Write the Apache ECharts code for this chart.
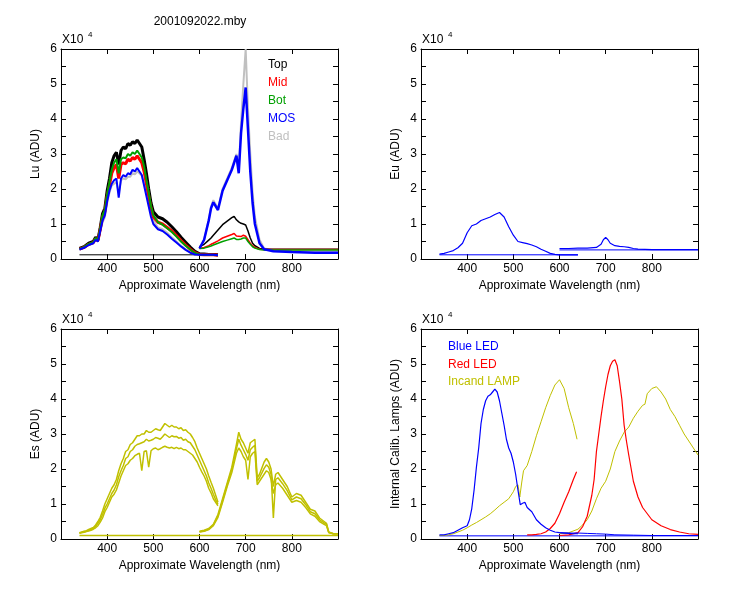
<!DOCTYPE html>
<html><head><meta charset="utf-8">
<script src="https://cdn.jsdelivr.net/npm/echarts@6/dist/echarts.min.js"></script>
<style>html,body{margin:0;padding:0;background:#fff}#c{width:750px;height:600px}</style>
</head><body><div id="c"></div>
<script>
// ---------- data (values in units of 10^4 ADU) ----------
const xTicks = [400, 500, 600, 700, 800];
const yNames = ['Lu (ADU)', 'Eu (ADU)', 'Es (ADU)', 'Internal Calib. Lamps (ADU)'];
const luLegend = ['Top', 'Mid', 'Bot', 'MOS', 'Bad'];
const calLegend = ['Blue LED', 'Red LED', 'Incand LAMP'];

const wlLuA = [340,350,360,370,375,380,385,390,395,400,405,410,415,420,425,430,435,440,445,450,455,460,465,470,475,480,485,490,495,500,510,520,530,540,550,560,570,580,590,600,610,620,630,640];
const luTopA = [0.3,0.35,0.45,0.5, 0.62,0.55,0.9,1.3,1.45,1.95,2.3,2.75,2.95,3.05,2.7,3.1,3.2,3.15,3.3,3.25,3.35,3.3,3.4,3.3,3.2,2.85,2.45,2.0,1.6, 1.35, 1.2,1.15,1.05,0.92,0.78,0.62,0.48,0.34,0.22,0.15,0.14,0.13,0.13,0.12];
const luMidA = [0.28,0.33,0.42,0.47, 0.58,0.52,0.85,1.2,1.35,1.8,2.1,2.45,2.6,2.7,2.3,2.7,2.75,2.72,2.85,2.8,2.9,2.85,2.95,2.85,2.75,2.5,2.15,1.8,1.45, 1.2, 1.05,1.0,0.9,0.8,0.67,0.53,0.4,0.28,0.18,0.13,0.12,0.12,0.12,0.11];
const luBotA = [0.29,0.34,0.43,0.48, 0.6,0.53,0.88,1.25,1.4,1.85,2.2,2.55,2.75,2.85,2.45,2.85,2.9,2.88,3.0,2.95,3.05,3.0,3.1,3.0,2.9,2.65,2.25,1.9,1.5, 1.25, 1.05,0.98,0.88,0.77,0.64,0.5,0.38,0.27,0.17,0.13,0.12,0.12,0.12,0.11];
const luMosA = [0.27,0.32,0.4,0.45, 0.55,0.5,0.8,1.1,1.25,1.65,1.95,2.15,2.25,2.3,1.75,2.3,2.4,2.35,2.45,2.42,2.55,2.5,2.6,2.5,2.4,2.1,1.8,1.5,1.2, 1.0, 0.85,0.8,0.7,0.58,0.47,0.36,0.26,0.18,0.13,0.12,0.12,0.12,0.12,0.11];
const luBadA = [0.27,0.32,0.4,0.45, 0.55,0.5,0.78,1.05,1.2,1.6,1.9,2.1,2.15,2.2,1.9,2.25,2.3,2.28,2.35,2.35,2.45,2.42,2.5,2.45,2.38,2.15,1.9,1.6,1.3, 1.1, 0.9,0.85,0.75,0.62,0.5,0.38,0.28,0.19,0.14,0.12,0.12,0.12,0.12,0.11];

const wlLuB = [600,610,620,625,630,640,650,660,670,675,680,685,690,695,700,705,710,715,720,730,740,760,800,850,900];
const luTopB = [0.35,0.42,0.54,0.6,0.68,0.83,0.98,1.08,1.18,1.22,1.12,1.06,1.02,1.0,0.97,0.8,0.6,0.45,0.38,0.3,0.28,0.28,0.28,0.28,0.28];
const luMidB = [0.3,0.33,0.38,0.42,0.45,0.52,0.6,0.65,0.7,0.73,0.66,0.65,0.64,0.68,0.65,0.55,0.45,0.38,0.33,0.28,0.27,0.27,0.27,0.27,0.27];
const luBotB = [0.3,0.31,0.35,0.37,0.4,0.45,0.5,0.54,0.58,0.6,0.56,0.56,0.57,0.6,0.6,0.5,0.42,0.35,0.31,0.27,0.26,0.26,0.26,0.26,0.26];
const luMosB = [0.3,0.55,1.1,1.45,1.62,1.4,1.95,2.25,2.55,2.75,2.95,2.45,3.6,4.3,4.9,3.7,2.5,1.6,1.0,0.45,0.28,0.22,0.2,0.18,0.18];
const luBadB = [0.3,0.55,1.12,1.5,1.68,1.45,2.0,2.3,2.6,2.8,3.0,2.5,3.9,5.0,6.0,4.3,3.0,1.9,1.2,0.55,0.3,0.25,0.22,0.2,0.2];
const wlBaseA = [340,640];
const luBaseA = [0.12,0.12];

const wlA = [340,350,360,370,380,390,400,410,420,430,440,450,460,470,480,490,500,510,520,530,540,550,560,570,580,590,600,610,620,630,640];
const euA = [0.14,0.16,0.2,0.24,0.32,0.45,0.75,0.95,1.0,1.1,1.15,1.2,1.27,1.33,1.2,0.92,0.68,0.5,0.47,0.44,0.4,0.35,0.28,0.22,0.16,0.13,0.12,0.12,0.12,0.12,0.12];
const euBaseA = [0.12,0.12];
const wlEuB = [600,620,640,660,680,690,695,700,705,710,720,730,740,750,760,770,800,850,900];
const euB = [0.3,0.3,0.31,0.31,0.33,0.42,0.55,0.62,0.55,0.45,0.38,0.36,0.35,0.33,0.3,0.28,0.27,0.27,0.27];
const wlBaseB = [600,900];
const euBaseB = [0.26,0.26];

const wlEsA = [340,345,350,355,360,365,370,375,380,385,390,395,400,405,410,415,420,425,430,435,440,445,450,455,460,465,470,475,480,485,490,495,500,505,510,515,520,525,530,535,540,545,550,555,560,565,570,575,580,585,590,595,600,605,610,615,620,625,630,635,640];
const esHighA = [0.18,0.2,0.22,0.24,0.27,0.3,0.33,0.4,0.5,0.62,
  0.8,1.0,1.15,1.3,1.45,1.55,1.7,1.95,2.15,2.3,
  2.5,2.55,2.7,2.75,2.85,2.95,2.95,3.0,3.0,3.1,
  3.05,3.05,3.1,3.15,3.12,3.1,3.2,3.3,3.25,3.2,
  3.25,3.2,3.2,3.15,3.18,3.1,3.12,3.05,3.0,2.9,
  2.78,2.6,2.45,2.3,2.15,2.0,1.8,1.62,1.45,1.25,
  1.05];
const esMidA = [0.17,0.19,0.2,0.22,0.25,0.27,0.3,0.36,0.45,0.55,
  0.7,0.88,1.0,1.15,1.3,1.4,1.55,1.78,1.95,2.1,
  2.3,2.35,2.5,2.55,2.65,2.7,2.72,2.75,2.78,2.85,
  2.8,2.82,2.85,2.9,2.88,2.85,2.92,3.0,2.95,2.9,
  2.95,2.92,2.93,2.88,2.9,2.82,2.85,2.78,2.75,2.65,
  2.55,2.4,2.25,2.1,1.95,1.8,1.6,1.45,1.28,1.12,
  1.0];
const esLowA = [0.16,0.18,0.19,0.21,0.23,0.25,0.28,0.32,0.38,0.48,
  0.6,0.78,0.9,1.05,1.2,1.28,1.4,1.6,1.8,1.95,
  2.1,2.15,2.25,2.3,2.38,2.42,2.45,1.95,2.5,2.52,
  2.05,2.52,2.58,2.6,2.55,2.58,2.62,2.65,2.62,2.6,
  2.62,2.58,2.62,2.58,2.6,2.55,2.55,2.5,2.45,2.4,
  2.3,2.2,2.05,1.92,1.8,1.65,1.45,1.32,1.15,1.05,
  0.95];
const wlEsB = [600,610,620,630,640,650,660,670,680,685,690,695,700,705,710,715,720,725,730,740,745,750,755,760,765,770,780,790,800,810,820,830,840,850,860,870,875,880,890,900];
const esHighB = [0.22,0.25,0.3,0.42,0.7,1.15,1.6,2.05,2.7,3.05,2.85,2.75,2.6,2.45,2.75,2.8,2.85,1.75,1.85,2.2,2.3,2.2,2.0,1.5,1.85,1.9,1.7,1.5,1.2,1.3,1.25,1.05,0.85,0.8,0.6,0.5,0.45,0.2,0.15,0.15];
const esMidB = [0.21,0.23,0.28,0.4,0.66,1.1,1.55,1.98,2.58,2.85,2.68,2.55,2.42,2.25,2.55,2.62,2.68,1.65,1.75,2.02,2.12,2.05,1.85,0.6,1.7,1.75,1.58,1.38,1.12,1.2,1.15,0.98,0.78,0.72,0.55,0.46,0.42,0.19,0.15,0.15];
const esLowB = [0.2,0.22,0.27,0.38,0.62,1.05,1.5,1.9,2.45,2.6,2.5,2.35,2.25,1.7,2.35,2.45,2.5,1.55,1.65,1.85,1.95,1.9,1.7,1.3,1.55,1.6,1.45,1.25,1.05,1.1,1.05,0.9,0.72,0.65,0.5,0.42,0.38,0.18,0.15,0.15];
const wlFull = [340,900];
const esBase = [0.1,0.1];

const wlCalA = [340,350,360,370,380,390,400,405,410,415,420,425,430,435,440,445,450,455,460,465,470,475,480,485,490,495,500,505,510,515,520,525,530,540,550,560,570,580,590,600,610,620,630,640];
const blueLedA = [0.12,0.12,0.15,0.18,0.25,0.32,0.38,0.55,0.87,1.4,2.05,2.6,3.3,3.7,3.95,4.08,4.12,4.2,4.28,4.2,3.95,3.6,3.25,2.85,2.6,2.45,2.2,1.85,1.4,0.98,1.02,1.05,0.9,0.78,0.55,0.42,0.32,0.25,0.2,0.18,0.17,0.16,0.15,0.15];
const wlBlueLedB = [600,620,640,660,680,700,720,760,800,850,900];
const blueLedB = [0.18,0.17,0.17,0.16,0.15,0.14,0.12,0.11,0.1,0.1,0.1];
const blueLedBase = [0.09,0.09];
const wlRedA = [530,540,550,560,570,580,590,600,610,620,630,637];
const redLedA = [0.12,0.12,0.13,0.15,0.2,0.3,0.45,0.72,1.05,1.35,1.7,1.92];
const wlRedB = [600,620,640,650,660,670,675,680,685,690,695,700,705,710,715,720,725,730,735,740,745,750,760,770,780,800,820,840,860,880,900];
const redLedB = [0.1,0.12,0.18,0.35,0.65,1.25,1.7,2.5,3.0,3.5,3.95,4.35,4.7,4.95,5.08,5.12,4.95,4.5,4.0,3.25,2.8,2.4,1.65,1.2,0.9,0.55,0.38,0.27,0.2,0.15,0.13];
const wlIncA = [340,350,360,370,380,390,400,410,420,430,440,450,460,470,480,490,500,505,510,514,518,522,530,540,550,560,570,580,590,600,610,620,630,638];
const incA = [0.1,0.1,0.12,0.15,0.2,0.25,0.32,0.4,0.47,0.55,0.63,0.72,0.83,0.95,1.05,1.15,1.35,1.5,1.55,1.2,1.6,1.95,2.1,2.5,2.95,3.35,3.75,4.1,4.4,4.55,4.3,3.75,3.3,2.85];
const wlIncB = [600,620,640,650,660,670,680,690,700,710,720,730,740,750,760,770,780,785,790,800,810,820,830,840,850,860,870,880,890,900];
const incB = [0.15,0.18,0.28,0.4,0.55,0.8,1.15,1.45,1.65,2.0,2.5,2.8,3.05,3.2,3.45,3.65,3.82,3.85,4.15,4.3,4.35,4.2,4.0,3.7,3.5,3.25,3.0,2.8,2.6,2.4];

// ---------- chart ----------
const FONT = '"Liberation Sans", Arial, sans-serif';
const C = {black:'#000000', red:'#ff0000', green:'#00a000', blue:'#0000ff', gray:'#c0c0c0', olive:'#c0c000'};
const gridPos = [[61,49],[421,49],[61,329],[421,329]];
const chart = echarts.init(document.getElementById('c'), null, {renderer:'canvas'});
const zip = (x, y) => x.map((v, i) => [v, y[i]]);

const grid = gridPos.map(g => ({left:g[0], top:g[1], width:277, height:210, show:false}));
const xAxis = [], yAxis = [];
const lineSt = {color:'#000', width:1};
gridPos.forEach((g, i) => {
  xAxis.push({type:'value', gridIndex:i, min:300, max:900, interval:100, position:'bottom',
    name:'Approximate Wavelength (nm)', nameLocation:'middle', nameGap:21,
    nameTextStyle:{color:'#000', fontSize:12, fontFamily:FONT},
    axisLine:{onZero:false, lineStyle:lineSt}, axisTick:{inside:true, length:5, lineStyle:lineSt},
    axisLabel:{color:'#000', fontSize:12, fontFamily:FONT, margin:4,
      formatter: v => xTicks.includes(v) ? String(v) : ''},
    splitLine:{show:false}});
  xAxis.push({type:'value', gridIndex:i, min:300, max:900, interval:100, position:'top',
    axisLine:{onZero:false, lineStyle:lineSt}, axisTick:{inside:true, length:5, lineStyle:lineSt},
    axisLabel:{show:false}, splitLine:{show:false}});
  yAxis.push({type:'value', gridIndex:i, min:0, max:6, interval:0.5, position:'left',
    name:yNames[i], nameLocation:'middle', nameGap:19,
    nameTextStyle:{color:'#000', fontSize:12, fontFamily:FONT},
    axisLine:{onZero:false, lineStyle:lineSt}, axisTick:{inside:true, length:5, lineStyle:lineSt},
    axisLabel:{color:'#000', fontSize:12, fontFamily:FONT, margin:4,
      formatter: v => Math.abs(v - Math.round(v)) < 1e-9 ? String(Math.round(v)) : ''},
    splitLine:{show:false}});
  yAxis.push({type:'value', gridIndex:i, min:0, max:6, interval:0.5, position:'right',
    axisLine:{onZero:false, lineStyle:lineSt}, axisTick:{inside:true, length:5, lineStyle:lineSt},
    axisLabel:{show:false}, splitLine:{show:false}});
});

function line(name, x, y, color, gi, width) {
  return {type:'line', name, xAxisIndex:2*gi, yAxisIndex:2*gi, data:zip(x, y),
    showSymbol:false, symbol:'none', silent:true, animation:false,
    lineStyle:{color, width:width || 1}, itemStyle:{color}};
}

const series = [
  // Lu
  line('Top', wlBaseA, luBaseA, C.black, 0, 1),
  line('Bad', wlLuA, luBadA, C.gray, 0, 2), line('Bad', wlLuB, luBadB, C.gray, 0, 2),
  line('Top', wlLuA, luTopA, C.black, 0, 3), line('Top', wlLuB, luTopB, C.black, 0, 1.5),
  line('Mid', wlLuA, luMidA, C.red, 0, 3), line('Mid', wlLuB, luMidB, C.red, 0, 1.5),
  line('Bot', wlLuA, luBotA, C.green, 0, 2), line('Bot', wlLuB, luBotB, C.green, 0, 1.5),
  line('MOS', wlLuA, luMosA, C.blue, 0, 2), line('MOS', wlLuB, luMosB, C.blue, 0, 2.5),
  // Eu
  line('Eu', wlBaseA, euBaseA, C.blue, 1, 1), line('Eu', wlBaseB, euBaseB, C.blue, 1, 1),
  line('Eu', wlA, euA, C.blue, 1, 1.2), line('Eu', wlEuB, euB, C.blue, 1, 1.2),
  // Es
  line('Es', wlFull, esBase, C.olive, 2, 1.5),
  line('Es', wlEsA, esHighA, C.olive, 2, 1.5), line('Es', wlEsA, esMidA, C.olive, 2, 1.5), line('Es', wlEsA, esLowA, C.olive, 2, 1.5),
  line('Es', wlEsB, esHighB, C.olive, 2, 1.5), line('Es', wlEsB, esMidB, C.olive, 2, 1.5), line('Es', wlEsB, esLowB, C.olive, 2, 1.5),
  // Calibration lamps
  line('Blue LED', wlFull, blueLedBase, C.blue, 3, 1),
  line('Incand LAMP', wlIncA, incA, C.olive, 3, 1), line('Incand LAMP', wlIncB, incB, C.olive, 3, 1),
  line('Red LED', wlRedA, redLedA, C.red, 3, 1.2), line('Red LED', wlRedB, redLedB, C.red, 3, 1.2),
  line('Blue LED', wlCalA, blueLedA, C.blue, 3, 1.2), line('Blue LED', wlBlueLedB, blueLedB, C.blue, 3, 1)
];

const txt = (x, y, text, color, size, align) => ({type:'text', x, y, silent:true,
  style:{text, fill:color || '#000', font:(size || 12) + 'px ' + FONT, align:align || 'left', verticalAlign:'middle'}});
const graphic = [txt(200, 22, '2001092022.mby', '#000', 12, 'center')];
gridPos.forEach(g => {
  graphic.push(txt(g[0] + 1, g[1] - 9, 'X10', '#000', 12));
  graphic.push(txt(g[0] + 27, g[1] - 14, '4', '#000', 8));
});
const luColors = [C.black, C.red, C.green, C.blue, C.gray];
luLegend.forEach((t, i) => graphic.push(txt(268, 65 + i * 17.8, t, luColors[i], 12)));
const calColors = [C.blue, C.red, C.olive];
calLegend.forEach((t, i) => graphic.push(txt(448, 347 + i * 17.5, t, calColors[i], 12)));

chart.setOption({backgroundColor:'#fff', animation:false, grid, xAxis, yAxis, series, graphic});
</script>
</body></html>
